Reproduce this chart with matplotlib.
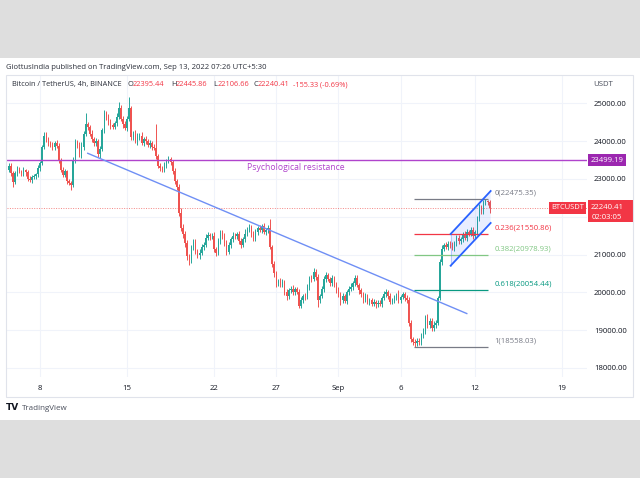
import matplotlib
matplotlib.use("Agg")
import matplotlib.pyplot as plt
import matplotlib.dates as mdates
import numpy as np
import pandas as pd
from matplotlib.patches import Rectangle, Polygon
from matplotlib.transforms import blended_transform_factory

plt.rcParams['font.family'] = 'Open Sans'

# -----------------------------------------------------------------------------
# Data (BTCUSDT 4h)
# -----------------------------------------------------------------------------
START = "2022-08-05 12:00"
first_open = 23250

closes = [
    23350, 23150, 22920, 23150, 23250, 23200, 23150, 23230, 23180, 23000,
    22980, 23050, 23080, 23120, 23300, 23420, 23850, 24150, 24050, 23950,
    23900, 23850, 23950, 23880, 23500, 23250, 23100, 23200, 22950, 22900,
    22850, 23500, 23980, 23900, 23650, 23850, 24200, 24450, 24380, 24200,
    24050, 23950, 24000, 23650, 23800, 24300, 24750, 24650, 24500, 24420,
    24380, 24480, 24650, 24880, 24600, 24450, 24350, 24600, 24880, 24100,
    24200, 24000, 24100, 24150, 23950, 24050, 24000, 23900, 23950, 23850,
    23820, 23600, 23350, 23300, 23250, 23380, 23480, 23530, 23450, 23200,
    22950, 22780, 22100, 21700, 21550, 21300, 20950, 20850, 21200, 21330,
    21100, 21000, 21050, 21200, 21250, 21450, 21520, 21480, 21500, 21150,
    21040, 21350, 21570, 21500, 21300, 21080, 21250, 21400, 21500, 21480,
    21550, 21350, 21250, 21400, 21550, 21650, 21730, 21550, 21420, 21600,
    21700, 21650, 21750, 21600, 21650, 21700, 21200, 20750, 20500, 20250,
    20300, 20200, 20280, 20000, 19900, 20050, 20100, 20000, 20080, 20020,
    19650, 19800, 19900, 19880, 20150, 20380, 20350, 20550, 20400, 19800,
    19900, 20100, 20350, 20460, 20350, 20250, 20380, 20200, 20050, 19950,
    19800, 19900, 19780, 20000, 20100, 20150, 20250, 20380, 20200, 20050,
    19950, 19800, 19900, 19750, 19800, 19700, 19750, 19680, 19720, 19700,
    19850, 19950, 20010, 19900, 19750, 19800, 19850, 19900, 19800, 19880,
    19950, 19850, 19800, 19200, 18770, 18700, 18650, 18720, 18680, 18850,
    18980, 19350, 19150, 19250, 19050, 19150, 19200, 19850, 20800, 21160,
    21250, 21200, 21290, 21250, 21180, 21300, 21450, 21350, 21400, 21550,
    21450, 21600, 21550, 21650, 21500, 21600, 21950, 22250, 22150, 22380,
    22420, 22395.44, 22240.41,
]

wick_up = [
    60, 80, 50, 70, 90, 60, 50, 80, 40, 60,
    70, 50, 60, 40, 80, 60, 50, 100, 90, 70,
    60, 80, 50, 90, 60, 50, 70, 60, 50, 40,
    60, 80, 70, 60, 90, 120, 80, 290, 70, 60,
    90, 60, 80, 70, 80, 60, 70, 50, 60, 80,
    70, 60, 90, 160, 70, 60, 80, 70, 290, 60,
    80, 90, 120, 70, 100, 60, 80, 70, 90, 60,
    80, 630, 60, 70, 50, 80, 60, 70, 60, 50,
    90, 60, 80, 120, 100, 80, 90, 70, 60, 80,
    70, 60, 90, 80, 70, 100, 80, 60, 70, 90,
    60, 80, 70, 90, 60, 80, 70, 60, 90, 80,
    60, 70, 80, 60, 120, 90, 70, 60, 80, 70,
    60, 90, 70, 80, 60, 80, 250, 60, 80, 70,
    60, 90, 70, 60, 80, 70, 60, 90, 70, 60,
    80, 70, 60, 90, 80, 60, 70, 100, 60, 80,
    70, 60, 80, 90, 60, 70, 80, 60, 70, 90,
    60, 80, 70, 60, 80, 90, 60, 70, 80, 60,
    70, 60, 80, 70, 60, 50, 70, 60, 80, 70,
    60, 90, 70, 60, 80, 60, 70, 90, 170, 60,
    70, 60, 80, 70, 60, 50, 70, 60, 80, 70,
    90, 60, 80, 70, 60, 90, 70, 60, 80, 90,
    60, 80, 70, 60, 90, 70, 60, 80, 70, 60,
    80, 70, 60, 90, 70, 60, 80, 90, 70, 60,
    55, 30, 50.42,
]

wick_dn = [
    70, 60, 130, 60, 80, 50, 70, 60, 90, 50,
    60, 80, 50, 70, 60, 80, 50, 60, 70, 80,
    60, 70, 90, 60, 80, 70, 60, 50, 80, 70,
    140, 60, 70, 80, 60, 90, 70, 60, 80, 70,
    60, 80, 70, 60, 90, 60, 70, 80, 60, 90,
    60, 70, 80, 60, 70, 90, 60, 80, 70, 60,
    80, 60, 90, 70, 60, 80, 70, 60, 90, 70,
    60, 80, 70, 90, 60, 70, 80, 60, 70, 60,
    80, 70, 90, 80, 120, 100, 90, 120, 80, 70,
    90, 80, 120, 70, 80, 60, 70, 90, 60, 70,
    80, 60, 70, 80, 60, 90, 70, 80, 60, 70,
    80, 60, 70, 60, 80, 70, 60, 90, 70, 60,
    70, 60, 80, 60, 70, 90, 60, 80, 90, 100,
    80, 70, 60, 80, 90, 70, 60, 80, 70, 60,
    60, 60, 70, 80, 60, 90, 70, 60, 80, 200,
    70, 60, 80, 70, 60, 80, 90, 70, 60, 80,
    140, 70, 60, 80, 70, 60, 90, 70, 60, 80,
    70, 80, 60, 70, 80, 60, 70, 90, 60, 70,
    80, 60, 70, 80, 60, 70, 80, 60, 70, 80,
    60, 70, 80, 90, 80, 100, 92, 60, 70, 80,
    60, 70, 80, 90, 70, 60, 80, 70, 60, 80,
    70, 60, 80, 70, 60, 80, 70, 60, 80, 70,
    60, 80, 70, 60, 80, 70, 90, 60, 80, 70,
    60, 80, 133.75,
]

price_ticks = [18000, 19000, 20000, 21000, 22000, 23000, 24000, 25000]
date_ticks = ["2022-08-08", "2022-08-15", "2022-08-22", "2022-08-27",
              "2022-09-01", "2022-09-06", "2022-09-12", "2022-09-19"]
date_labels = ["8", "15", "22", "27", "Sep", "6", "12", "19"]

resistance = 23499.19
last_price = 22240.41

fib_ratios = ["0", "0.236", "0.382", "0.618", "1"]
fib_prices = [22475.35, 21550.86, 20978.93, 20054.44, 18558.03]
fib_colors = ["#787b86", "#f23645", "#81c784", "#089981", "#787b86"]
fib_span = ["2022-09-07 02:10", "2022-09-13 01:00"]

trend_t = ["2022-08-11 20:10", "2022-09-11 07:55"]
trend_p = [23680, 19440]

chan_t = ["2022-09-10 00:45", "2022-09-13 06:00"]
chan_upper = [21545, 22682]
chan_lower = [20706, 21836]

# -----------------------------------------------------------------------------
# Colours
# -----------------------------------------------------------------------------
UP = "#26a69a"
DOWN = "#ef5350"
GRID = "#f0f3fa"
TEXT = "#131722"
PURPLE = "#b044cc"
BLUE = "#2962ff"

W, H = 640, 478
FS = 5.3


def fx(px):
    return px / W


def fy(py):
    return 1 - py / H


def dnum(s):
    return mdates.date2num(pd.Timestamp(s))


fig = plt.figure(figsize=(W / 100, H / 100), dpi=100, facecolor="#dedede")
fig.add_artist(Rectangle((0, fy(420)), 1, (420 - 58) / H, transform=fig.transFigure,
                         fc="white", ec="none", zorder=-10))
fig.add_artist(Rectangle((fx(6), fy(397)), 627 / W, 322 / H, transform=fig.transFigure,
                         fill=False, ec="#e0e3eb", lw=0.8, zorder=5))

ax = fig.add_axes([fx(7), fy(377), 580 / W, 301 / H])
ax.set_facecolor("white")
for sp in ax.spines.values():
    sp.set_visible(False)

# candles
times = pd.date_range(START, periods=len(closes), freq="4h")
t = mdates.date2num(times)
c = np.array(closes, dtype=float)
o = np.r_[first_open, c[:-1]]
hi = np.maximum(o, c) + np.array(wick_up)
lo = np.minimum(o, c) - np.array(wick_dn)
cols = np.where(c >= o, UP, DOWN)
ax.vlines(t, lo, hi, colors=cols, lw=0.7, zorder=2)
body = np.maximum(np.abs(c - o), 15)
ax.bar(t, body, bottom=np.minimum(o, c), width=0.11, color=cols, lw=0, zorder=3)

# limits / axes
ax.set_xlim(dnum("2022-08-05 08:17"), dnum("2022-09-21 00:00"))
ax.set_ylim(17761, 25725)
ax.set_xticks([dnum(d) for d in date_ticks])
ax.set_xticklabels(date_labels)
ax.yaxis.tick_right()
ax.set_yticks(price_ticks)
ax.set_yticklabels(["" if p == 22000 else f"{p:.2f}" for p in price_ticks])
ax.tick_params(axis="y", length=0, pad=5, labelsize=5.6, labelcolor=TEXT)
ax.tick_params(axis="x", length=0, pad=6, labelsize=5.6, labelcolor=TEXT)
ax.grid(True, color=GRID, lw=0.8)
ax.set_axisbelow(True)

# resistance line
ax.axhline(resistance, color=PURPLE, lw=1.0, zorder=4)
ax.text(dnum("2022-08-28 14:00"), resistance - 200, "Psychological resistance",
        color=PURPLE, fontsize=6.2, ha="center", va="center", zorder=6)

# last price dotted
ax.axhline(last_price, color=DOWN, lw=0.7, ls=(0, (1, 1.5)), alpha=0.7, zorder=1)

# trend line
ax.plot([dnum(x) for x in trend_t], trend_p, color="#6f8ff5", lw=1.0, zorder=4)

# fib retracement
f0, f1 = dnum(fib_span[0]), dnum(fib_span[1])
for r, p, col in zip(fib_ratios, fib_prices, fib_colors):
    ax.hlines(p, f0, f1, color=col, lw=0.9, zorder=4)
    ax.text(f1 + 0.5, p + 160, f"{r}({p:.2f})", color=col, fontsize=5.6,
            ha="left", va="center", zorder=6)

# parallel channel
ct = [dnum(x) for x in chan_t]
ax.add_patch(Polygon([(ct[0], chan_lower[0]), (ct[0], chan_upper[0]),
                      (ct[1], chan_upper[1]), (ct[1], chan_lower[1])],
                     closed=True, fc=BLUE, alpha=0.10, ec="none", zorder=3))
ax.plot(ct, chan_upper, color=BLUE, lw=1.3, zorder=5)
ax.plot(ct, chan_lower, color=BLUE, lw=1.3, zorder=5)
ax.plot([ct[0], ct[0]], [chan_lower[0], chan_upper[0]], color=BLUE, lw=0.5, alpha=0.4, zorder=5)

# price-scale labels
tr = blended_transform_factory(ax.transAxes, ax.transData)


def axf(px):
    return (px - 7) / 580


ppx = 26.46  # price units per pixel
ax.add_patch(Rectangle((axf(588), resistance - 6 * ppx), axf(626) - axf(588), 12 * ppx,
                       transform=tr, fc="#9c27b0", ec="none", clip_on=False, zorder=7))
ax.text(axf(607), resistance, f"{resistance:.2f}", transform=tr, color="white",
        fontsize=5.6, ha="center", va="center", clip_on=False, zorder=8)

ax.add_patch(Rectangle((axf(549), last_price - 6 * ppx), axf(586) - axf(549), 12 * ppx,
                       transform=tr, fc="#f23645", ec="none", clip_on=False, zorder=7))
ax.text(axf(567.5), last_price, "BTCUSDT", transform=tr, color="white",
        fontsize=5.4, ha="center", va="center", clip_on=False, zorder=8)
ax.add_patch(Rectangle((axf(588), last_price - 14.3 * ppx), axf(633) - axf(588), 22 * ppx,
                       transform=tr, fc="#f23645", ec="none", clip_on=False, zorder=7))
ax.text(axf(607), last_price, f"{last_price:.2f}", transform=tr, color="white",
        fontsize=5.6, ha="center", va="center", clip_on=False, zorder=8)
ax.text(axf(607), last_price - 9.5 * ppx, "02:03:05", transform=tr, color="white",
        fontsize=5.6, ha="center", va="center", clip_on=False, zorder=8)

# header / legend texts
fig.text(fx(6), fy(67.5), "GiottusIndia published on TradingView.com, Sep 13, 2022 07:26 UTC+5:30",
         fontsize=5.5, color="#2a2e39", ha="left", va="center")
fig.text(fx(11.5), fy(84.5), "Bitcoin / TetherUS, 4h, BINANCE", fontsize=FS,
         color="#2a2e39", ha="left", va="center", zorder=8)
legend_items = [(128, "O", "22395.44"), (171.5, "H", "22445.86"),
                (213, "L", "22106.66"), (253, "C", "22240.41")]
for px, k, v in legend_items:
    fig.text(fx(px), fy(84.5), k, fontsize=FS, color="#2a2e39", ha="left", va="center")
    fig.text(fx(px + 4.4), fy(84.5), v, fontsize=FS, color="#f23645", ha="left", va="center")
fig.text(fx(293), fy(84.5), "-155.33 (-0.69%)", fontsize=FS, color="#f23645",
         ha="left", va="center")
fig.text(fx(603), fy(84.5), "USDT", fontsize=5.6, color="#4a4f5c", ha="center", va="center")

# footer logo
fig.text(fx(6), fy(408), "TV", fontsize=6.5, color=TEXT, fontweight="heavy",
         family="DejaVu Sans", ha="left", va="center")
fig.text(fx(22), fy(408), "TradingView", fontsize=5.8, color="#4a4f5c", ha="left", va="center")

fig.savefig("out.png", dpi=100, facecolor=fig.get_facecolor())
